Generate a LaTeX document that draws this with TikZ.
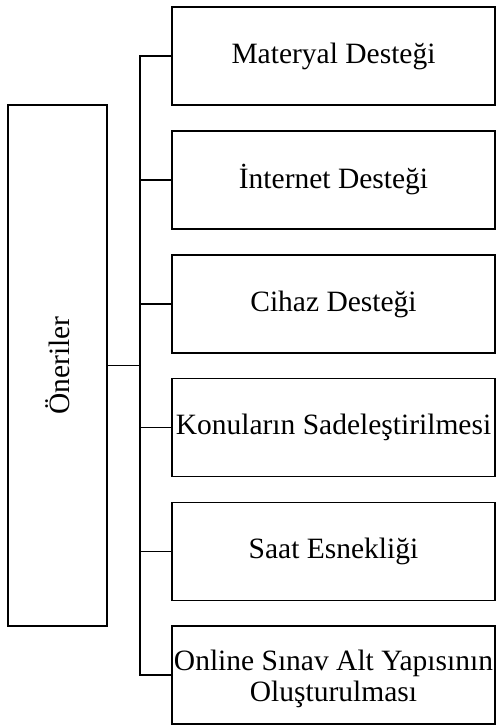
\documentclass[tikz,border=0pt]{standalone}
\usepackage{fontspec}
\setmainfont{Liberation Serif}
\begin{document}
\begin{tikzpicture}[x=1pt,y=-1pt,
  box/.style={draw,line width=1.6pt,minimum width=323pt,minimum height=98pt,inner sep=0pt,align=center,font=\fontsize{29.5}{31}\selectfont},
  mainbox/.style={draw,line width=1.6pt,minimum width=99pt,minimum height=521pt,inner sep=0pt},
  conn/.style={line width=1.6pt}]
\useasboundingbox (0,0) rectangle (497,725);
\node[mainbox] (main) at (57.5,365.5) {};
\node[rotate=90,font=\fontsize{29.5}{31}\selectfont] (mainlabel) at (main.center) {Öneriler};
\node[box] (b1) at (333.5,56) {Materyal Desteği};
\node[box] (b2) at (333.5,180) {İnternet Desteği};
\node[box] (b3) at (333.5,304) {Cihaz Desteği};
\node[box] (b4) at (333.5,427.5) {Konuların Sadeleştirilmesi};
\node[box] (b5) at (333.5,551.5) {Saat Esnekliği};
\node[box] (b6) at (333.5,675) {};
\node[align=center,inner sep=0pt,font=\fontsize{29.5}{31}\selectfont] (b6text) at ([yshift=-4pt]b6.center) {Online Sınav Alt Yapısının\\Oluşturulması};
\coordinate (top) at (140,56);
\coordinate (bot) at (140,675);
\coordinate (mid) at (140,365.5);
\draw[conn] (main.east |- mid) -- (mid);
\draw[conn] (b1.west) -- (top) -- (bot) -- (b6.west);
\foreach \n in {b2,b3,b4,b5} \draw[conn] (\n.west) -- (\n.west -| top);
\end{tikzpicture}
\end{document}
